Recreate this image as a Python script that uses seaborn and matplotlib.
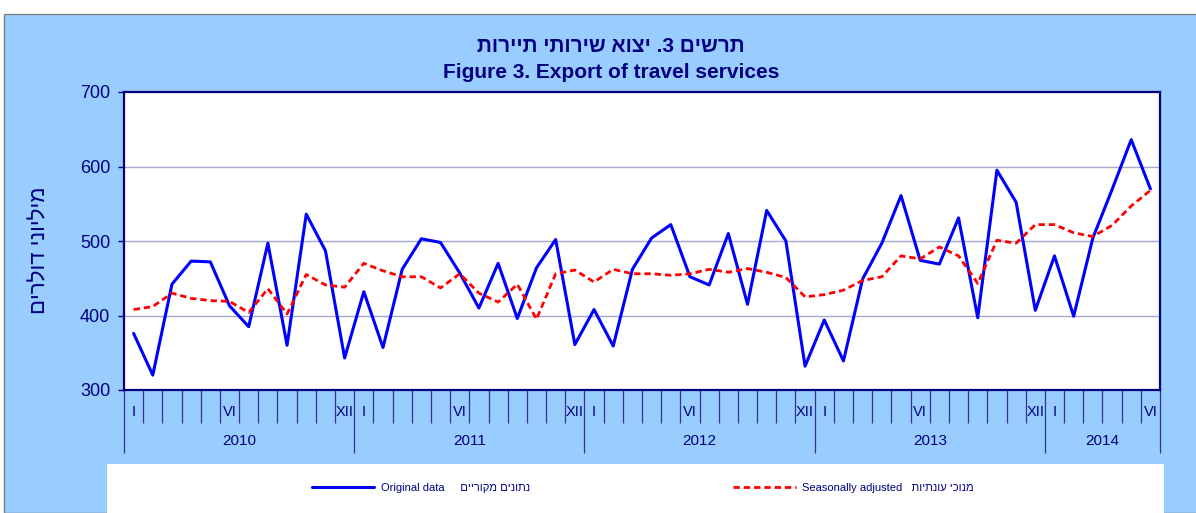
import numpy as np
import pandas as pd
import seaborn as sns
import matplotlib.pyplot as plt
from matplotlib.patches import Rectangle
from matplotlib.lines import Line2D
import matplotlib.transforms as mtransforms

sns.set_style("white")
plt.rcParams['font.family'] = ['Liberation Sans', 'DejaVu Sans']

# monthly values, Jan 2010 - Jun 2014 (USD millions)
original = [376, 320, 442, 473, 472, 413, 385, 497, 360, 536, 487, 343,
            432, 357, 462, 503, 498, 457, 410, 470, 396, 464, 502, 361,
            408, 359, 462, 504, 522, 452, 441, 510, 415, 541, 500, 332,
            394, 339, 449, 497, 561, 474, 469, 531, 397, 595, 552, 407,
            480, 399, 504, 569, 636, 570]
seasonal = [408, 412, 430, 423, 420, 419, 404, 436, 402, 455, 441, 438,
            470, 460, 452, 452, 437, 456, 430, 418, 442, 395, 456, 461,
            445, 462, 456, 456, 454, 456, 462, 458, 463, 458, 451, 425,
            428, 434, 447, 452, 480, 476, 492, 480, 443, 501, 497, 522,
            522, 511, 506, 521, 547, 568]
years = ["2010", "2011", "2012", "2013", "2014"]
month_labels = {0: "I", 5: "VI", 11: "XII"}

navy = "#000080"
heb = lambda s: s[::-1]   # Hebrew written right to left

df = pd.DataFrame({"month": np.arange(len(original)),
                   "original": original, "seasonal": seasonal})

fig = plt.figure(figsize=(11.96, 5.13), dpi=100, facecolor="white")
fig.patches.append(Rectangle((4 / 1196, 0), 1, 1 - 14 / 513, transform=fig.transFigure,
                             facecolor="#99CCFF", edgecolor="#808080", lw=1, zorder=-3))
fig.patches.append(Rectangle((107 / 1196, 0), (1164 - 107) / 1196, 1 - 464 / 513,
                             transform=fig.transFigure, facecolor="white",
                             edgecolor="none", zorder=-2))

ax = fig.add_axes([124 / 1196, 1 - 390 / 513, (1160 - 124) / 1196, (390 - 92) / 513])
ax.set_facecolor("white")

sns.lineplot(data=df, x="month", y="original", color="#0000FF", lw=2.2, ax=ax, zorder=3)
sns.lineplot(data=df, x="month", y="seasonal", color="#FF0000", lw=2.0,
             linestyle=(0, (2.3, 1.4)), ax=ax, zorder=3)

n = len(original)
ax.set_xlim(-0.5, n - 0.5)
ax.set_ylim(300, 700)
ax.set_yticks([300, 400, 500, 600, 700])
ax.tick_params(axis="y", left=True, direction="out", length=4, width=1, color=navy,
               labelsize=13, labelcolor=navy, pad=6)
for v in [400, 500, 600]:
    ax.axhline(v, color="#A8A8D4", lw=1, zorder=1)
for s in ax.spines.values():
    s.set_color(navy)
    s.set_linewidth(1.6)

# category axis: month separators and year separators
year_bounds = [-0.5, 11.5, 23.5, 35.5, 47.5, n - 0.5]
ax.set_xticks(year_bounds)
ax.set_xticks(np.arange(-0.5, n, 1.0), minor=True)
ax.set_xticklabels([])
ax.tick_params(axis="x", which="major", bottom=True, direction="out", length=45,
               width=0.9, color="#333399")
ax.tick_params(axis="x", which="minor", bottom=True, direction="out", length=24,
               width=0.9, color="#333399")
ax.set_xlabel("")
ax.set_ylabel("")

trans = mtransforms.blended_transform_factory(ax.transData, ax.transAxes)
for yi, yr in enumerate(years):
    start = yi * 12
    end = min(start + 12, n)
    for m, lab in month_labels.items():
        if start + m < end:
            ax.text(start + m, -0.075, lab, transform=trans, ha="center", va="center",
                    fontsize=10.5, color=navy, clip_on=False)
    ax.text((start + end - 1) / 2, -0.17, yr, transform=trans, ha="center", va="center",
            fontsize=11, color=navy, clip_on=False)

fig.text(40 / 1196, 1 - 250 / 513, heb("מיליוני דולרים"), rotation=90,
         ha="center", va="center", fontsize=16, color=navy)

fig.text(611 / 1196, 1 - 47 / 513, heb("תרשים 3. יצוא שירותי תיירות"),
         ha="center", va="center", fontsize=15, fontweight="bold", color=navy)
fig.text(611 / 1196, 1 - 72 / 513, "Figure 3. Export of travel services",
         ha="center", va="center", fontsize=15, fontweight="bold", color=navy)

handles = [Line2D([], [], color="#0000FF", lw=2.2),
           Line2D([], [], color="#FF0000", lw=2.0, linestyle=(0, (2.3, 1.4)))]
labels = ["Original data     " + heb("נתונים מקוריים"),
          "Seasonally adjusted   " + heb("מנוכי עונתיות")]
leg = fig.legend(handles, labels, ncol=2, loc="center",
                 bbox_to_anchor=(643 / 1196, 1 - 488 / 513), frameon=False,
                 fontsize=8, handlelength=5.6, handletextpad=0.6, columnspacing=18.3)
for t in leg.get_texts():
    t.set_color(navy)

fig.savefig("out.png", dpi=100, facecolor=fig.get_facecolor())
